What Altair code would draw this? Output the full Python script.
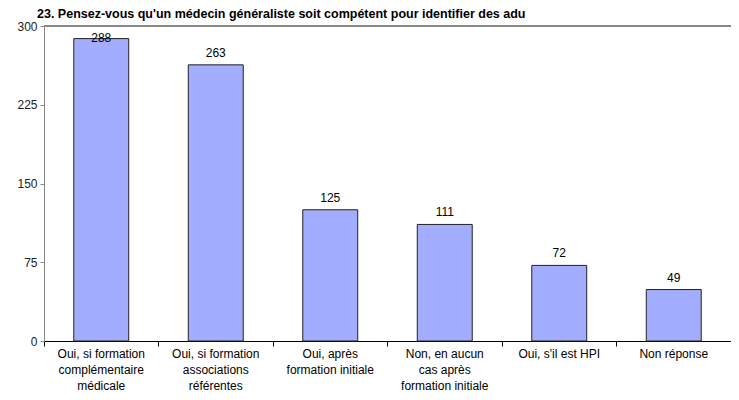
import json
import altair as alt
import pandas as pd

categories = [
    "Oui, si formation complémentaire médicale",
    "Oui, si formation associations référentes",
    "Oui, après formation initiale",
    "Non, en aucun cas après formation initiale",
    "Oui, s'il est HPI",
    "Non réponse",
]
label_lines = [
    ["Oui, si formation", "complémentaire", "médicale"],
    ["Oui, si formation", "associations", "référentes"],
    ["Oui, après", "formation initiale"],
    ["Non, en aucun", "cas après", "formation initiale"],
    ["Oui, s'il est HPI"],
    ["Non réponse"],
]
values = [288, 263, 125, 111, 72, 49]
y_ticks = [0, 75, 150, 225, 300]
title = "23. Pensez-vous qu'un médecin généraliste soit compétent pour identifier des adu"

df = pd.DataFrame({"cat": categories, "value": values})

label_expr = json.dumps(dict(zip(categories, label_lines)), ensure_ascii=False) + "[datum.value]"

W, H = 687, 315
FONT = "Liberation Sans"

x = alt.X(
    "cat:N",
    sort=categories,
    title=None,
    scale=alt.Scale(paddingInner=0, paddingOuter=0),
    axis=alt.Axis(
        labelAngle=0,
        labelExpr=label_expr,
        labelFont=FONT,
        labelFontSize=12,
        labelColor="#000",
        labelLineHeight=16,
        labelPadding=2,
        labelBaseline="top",
        bandPosition=0,
        tickColor="#000",
        tickSize=5,
        domainColor="#000",
        domainWidth=1,
        grid=False,
    ),
)

y = alt.Y(
    "value:Q",
    title=None,
    scale=alt.Scale(domain=[0, 300], nice=False),
    axis=alt.Axis(
        values=y_ticks,
        labelFont=FONT,
        labelFontSize=12,
        labelColor="#222",
        tickColor="#888",
        tickSize=4,
        domainColor="#888",
        grid=False,
        labelPadding=3,
    ),
)

bars = alt.Chart(df).mark_bar(
    color="#A3ADFF", stroke="#222", strokeWidth=1, width={"band": 0.48}
).encode(x=x, y=y)

labels = alt.Chart(df).transform_calculate(
    ly="min(datum.value, 277)"
).mark_text(
    baseline="bottom", dy=-5, font=FONT, fontSize=12, color="#000"
).encode(
    x=alt.X("cat:N", sort=categories),
    y=alt.Y("ly:Q"),
    text="value:Q",
)

top_line = alt.Chart(df).mark_rule(color="#888", strokeWidth=1.5).encode(
    x=alt.value(0), x2=alt.value(W), y=alt.value(0)
)

chart = alt.layer(top_line, bars, labels).properties(
    width=W,
    height=H,
    title=alt.TitleParams(
        title, anchor="start", frame="group", font=FONT, fontSize=12.5,
        fontWeight="bold", color="#000", offset=6, dx=-7, dy=6,
    ),
    autosize=alt.AutoSizeParams(type="none"),
    padding={"left": 36, "top": 18, "right": 0, "bottom": 51},
).configure_view(stroke=None)

chart.save("out.html", embed_options={"renderer": "svg", "actions": False})
